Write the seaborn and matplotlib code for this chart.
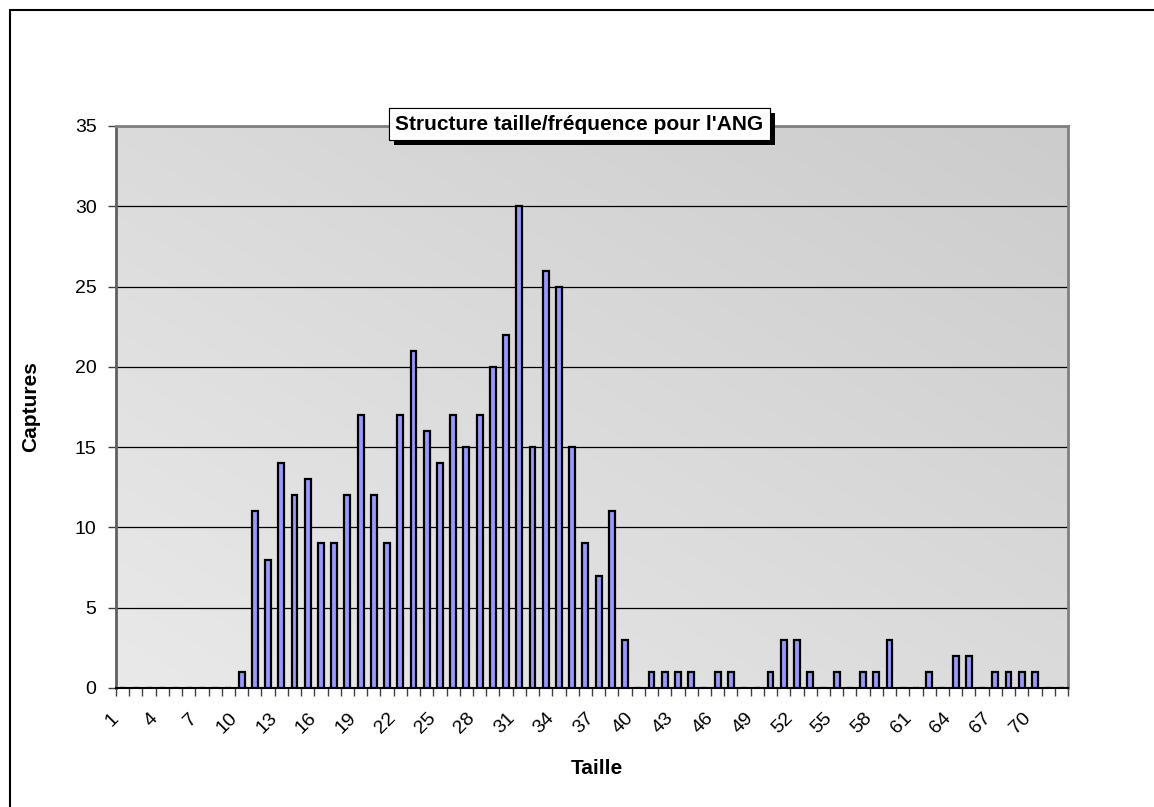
import numpy as np
import pandas as pd
import matplotlib
matplotlib.use("Agg")
import matplotlib.pyplot as plt
import matplotlib.patheffects as pe
from matplotlib.patches import Rectangle
import seaborn as sns

# Length classes (Taille) and number of captures per class
tailles = list(range(1, 73))
captures = [0, 0, 0, 0, 0, 0, 0, 0, 0, 1,
            11, 8, 14, 12, 13, 9, 9, 12, 17, 12,
            9, 17, 21, 16, 14, 17, 15, 17, 20, 22,
            30, 15, 26, 25, 15, 9, 7, 11, 3, 0,
            1, 1, 1, 1, 0, 1, 1, 0, 0, 1,
            3, 3, 1, 0, 1, 0, 1, 1, 3, 0,
            0, 1, 0, 2, 2, 0, 1, 1, 1, 1,
            0, 0]
y_ticks = [0, 5, 10, 15, 20, 25, 30, 35]

titre = "Structure taille/fréquence pour l'ANG"
x_label = "Taille"
y_label = "Captures"

sns.set_theme(style="white")
plt.rcParams["font.family"] = ["Liberation Sans", "DejaVu Sans"]

df = pd.DataFrame({"Taille": [str(t) for t in tailles], "Captures": captures})

fig = plt.figure(figsize=(11.54, 8.07), dpi=100)
fig.patch.set_facecolor("white")
ax = fig.add_axes([116 / 1154, 119 / 807, 952 / 1154, 562 / 807])

# Diagonal grey gradient for the plotting area (light bottom-left, darker top-right)
gx, gy = np.meshgrid(np.linspace(0, 1, 200), np.linspace(0, 1, 200))
w = (gx + gy) / 2.0
light, dark = 0.915, 0.800
g = light + (dark - light) * w
grad = np.dstack([g, g, g])
ax.imshow(grad, origin="lower", extent=[0, 1, 0, 1], transform=ax.transAxes,
          aspect="auto", zorder=0, interpolation="bilinear")
ax.set_facecolor("none")

sns.barplot(data=df, x="Taille", y="Captures", color="#9999FF",
            saturation=1, width=0.45, edgecolor="black", linewidth=1.6,
            ax=ax, zorder=3)

ax.set_xlim(-0.5, len(tailles) - 0.5)
ax.set_ylim(0, 35)
ax.set_yticks(y_ticks)
ax.set_yticklabels([str(v) for v in y_ticks], fontsize=14, color="black")
ax.yaxis.grid(True, color="black", linewidth=0.9)
for line in ax.get_ygridlines():
    line.set_zorder(1)

# Category labels every third class, ticks at class boundaries
label_pos = [i for i, t in enumerate(tailles) if (t - 1) % 3 == 0]
ax.set_xticks(label_pos)
ax.set_xticklabels([str(tailles[i]) for i in label_pos], fontsize=14,
                   color="black", rotation=45, ha="right", va="center",
                   rotation_mode="anchor")
ax.set_xticks(np.arange(-0.5, len(tailles)), minor=True)
ax.tick_params(axis="x", which="major", length=0, pad=20)
ax.tick_params(axis="x", which="minor", length=6, width=1, color="#404040",
               direction="out", bottom=True)
ax.tick_params(axis="y", which="major", length=6, width=1, color="#404040",
               direction="out", left=True, pad=8)
offset = matplotlib.transforms.ScaledTranslation(-7 / 100, 0, fig.dpi_scale_trans)
for lbl in ax.get_xticklabels():
    lbl.set_transform(lbl.get_transform() + offset)

ax.set_xlabel(x_label, fontsize=15, fontweight="bold", color="black")
ax.set_ylabel(y_label, fontsize=15, fontweight="bold", color="black")
ax.xaxis.set_label_coords((597 - 116) / 952, -(759 - 688) / 562)
ax.yaxis.set_label_coords(-(116 - 40) / 952, 0.5)

for side in ["top", "right"]:
    ax.spines[side].set_visible(True)
    ax.spines[side].set_color("#808080")
    ax.spines[side].set_linewidth(2)
ax.spines["left"].set_color("#606060")
ax.spines["left"].set_linewidth(2)
ax.spines["bottom"].set_color("black")
ax.spines["bottom"].set_linewidth(1.5)

# Boxed title with a drop shadow
t = fig.text(579.5 / 1154, 1 - 124 / 807, titre, ha="center", va="center",
             fontsize=15, fontweight="bold", color="black", zorder=10,
             bbox=dict(boxstyle="square,pad=0.3", facecolor="white",
                       edgecolor="black", linewidth=0.8))
t.get_bbox_patch().set_path_effects([
    pe.withSimplePatchShadow(offset=(3.5, -3.5), shadow_rgbFace="black", alpha=1),
    pe.Normal(),
])

# Chart border (top and left edges)
fig.patches.append(Rectangle((9.5 / 1154, -0.1), 1.2, 1 - 9.5 / 807 + 0.1,
                             transform=fig.transFigure, fill=False,
                             edgecolor="black", linewidth=1.5, zorder=0))

fig.savefig("out.png", dpi=100, facecolor="white")
